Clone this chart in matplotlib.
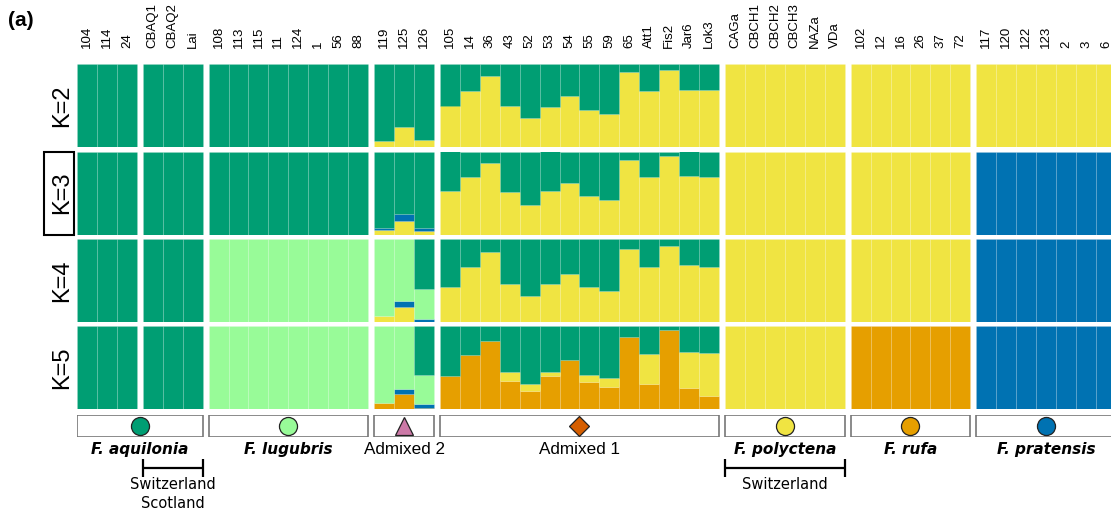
import matplotlib
matplotlib.use('Agg')
import matplotlib.pyplot as plt
from matplotlib.patches import Rectangle
import numpy as np

# cluster colours, in stacking order (bottom -> top)
ORANGE = '#E69F00'
YELLOW = '#F0E442'
BLUE = '#0072B2'
LIGHTGREEN = '#98FB98'
GREEN = '#009E73'
CLUSTER_COLORS = [ORANGE, YELLOW, BLUE, LIGHTGREEN, GREEN]

K_values = [2, 3, 4, 5]

# sample labels, one list per panel
aquilonia_a = ['104', '114', '24']
aquilonia_b = ['CBAQ1', 'CBAQ2', 'Lai']
lugubris = ['108', '113', '115', '11', '124', '1', '56', '88']
admixed2 = ['119', '125', '126']
admixed1 = ['105', '14', '36', '43', '52', '53', '54', '55', '59', '65',
            'Att1', 'Fis2', 'Jar6', 'Lok3']
polyctena = ['CAGa', 'CBCH1', 'CBCH2', 'CBCH3', 'NAZa', 'VDa']
rufa = ['102', '12', '16', '26', '37', '72']
pratensis = ['117', '120', '122', '123', '2', '3', '6']

# cluster index (into CLUSTER_COLORS) of the pure groups at K=2..5
aquilonia_cluster = [4, 4, 4, 4]
lugubris_cluster = [4, 4, 3, 3]
polyctena_cluster = [1, 1, 1, 1]
rufa_cluster = [1, 1, 1, 0]
pratensis_cluster = [1, 2, 2, 2]

# Admixed 1 ancestry proportions (green = remainder)
adm1_k2_yellow = [0.50, 0.68, 0.86, 0.49, 0.35, 0.48, 0.62, 0.45, 0.40, 0.90, 0.68, 0.93, 0.69, 0.69]
adm1_k3_yellow = [0.52, 0.69, 0.86, 0.51, 0.36, 0.52, 0.62, 0.46, 0.41, 0.90, 0.69, 0.94, 0.70, 0.69]
adm1_k4_yellow = [0.42, 0.66, 0.84, 0.46, 0.31, 0.46, 0.58, 0.42, 0.37, 0.88, 0.66, 0.92, 0.69, 0.66]
adm1_k5_orange = [0.40, 0.645, 0.82, 0.34, 0.22, 0.40, 0.585, 0.32, 0.26, 0.87, 0.30, 0.95, 0.25, 0.16]
adm1_k5_yellow = [0.0, 0.0, 0.0, 0.10, 0.085, 0.04, 0.0, 0.085, 0.11, 0.0, 0.36, 0.0, 0.44, 0.52]

# Admixed 2 ancestry proportions (green = remainder)
adm2_k2_yellow = [0.07, 0.24, 0.08]
adm2_k3_yellow = [0.05, 0.16, 0.045]
adm2_k3_blue = [0.03, 0.085, 0.035]
adm2_k4_yellow = [0.07, 0.18, 0.0]
adm2_k4_blue = [0.0, 0.07, 0.04]
adm2_k4_lightgreen = [0.93, 0.75, 0.36]
adm2_k5_orange = [0.07, 0.18, 0.015]
adm2_k5_blue = [0.0, 0.06, 0.04]
adm2_k5_lightgreen = [0.93, 0.755, 0.36]


def pure(n, cluster):
    q = np.zeros((n, 5))
    q[:, cluster] = 1.0
    return q


def mixed(n, parts):
    q = np.zeros((n, 5))
    for c, vals in parts.items():
        q[:, c] = vals
    q[:, 4] = 1.0 - q[:, :4].sum(axis=1)
    return q


adm1_parts = [{1: adm1_k2_yellow}, {1: adm1_k3_yellow}, {1: adm1_k4_yellow},
              {0: adm1_k5_orange, 1: adm1_k5_yellow}]
adm2_parts = [{1: adm2_k2_yellow},
              {1: adm2_k3_yellow, 2: adm2_k3_blue},
              {1: adm2_k4_yellow, 2: adm2_k4_blue, 3: adm2_k4_lightgreen},
              {0: adm2_k5_orange, 2: adm2_k5_blue, 3: adm2_k5_lightgreen}]

panels = [aquilonia_a, aquilonia_b, lugubris, admixed2, admixed1, polyctena, rufa, pratensis]
GAP = 0.3
starts = []
offset = 0.0
for p in panels:
    starts.append(offset)
    offset += len(p) + GAP
xs = np.concatenate([s + np.arange(len(p)) + 0.5 for s, p in zip(starts, panels)])
labels = sum(panels, [])

fig = plt.figure(figsize=(11.11, 5.13), dpi=100)
W, H = 1111, 513
left = 77 / W
row_tops = [64, 151.5, 239, 326]
row_h = 83
xmax = (W - 77) / 19.94

for ki, k in enumerate(K_values):
    q = np.vstack([
        pure(3, aquilonia_cluster[ki]),
        pure(3, aquilonia_cluster[ki]),
        pure(8, lugubris_cluster[ki]),
        mixed(3, adm2_parts[ki]),
        mixed(14, adm1_parts[ki]),
        pure(6, polyctena_cluster[ki]),
        pure(6, rufa_cluster[ki]),
        pure(7, pratensis_cluster[ki]),
    ])
    ax = fig.add_axes([left, 1 - (row_tops[ki] + row_h) / H, 1 - left, row_h / H])
    bottom = np.zeros(len(xs))
    for c in range(5):
        h = q[:, c]
        m = h > 0
        ax.bar(xs[m], h[m], bottom=bottom[m], width=1.0, color=CLUSTER_COLORS[c],
               edgecolor=(1, 1, 1, 0.1), linewidth=0.7)
        bottom += h
    ax.set_xlim(0, xmax)
    ax.set_ylim(0, 1)
    for s in ax.spines.values():
        s.set_visible(False)
    ax.set_yticks([])
    ax.set_ylabel(f'K={k}', fontsize=17, family='Liberation Sans', labelpad=3)
    if ki == 0:
        ax.set_xticks(xs)
        ax.set_xticklabels(labels, rotation=90, family='Liberation Sans', fontsize=9.5)
        ax.tick_params(axis='x', top=True, labeltop=True, bottom=False, labelbottom=False,
                       length=0, pad=11.5)
    else:
        ax.set_xticks([])
    if k == 3:
        ax.add_patch(Rectangle((-33 / 1034, 0), 30 / 1034, 1, transform=ax.transAxes,
                               fill=False, edgecolor='black', linewidth=1.5, clip_on=False))

# group boxes with symbols and names
groups = [
    ('F. aquilonia', [0, 1], 'o', GREEN, 13, True),
    ('F. lugubris', [2], 'o', LIGHTGREEN, 13, True),
    ('Admixed 2', [3], '^', '#CC79A7', 12.5, False),
    ('Admixed 1', [4], 'D', '#D55E00', 10.5, False),
    ('F. polyctena', [5], 'o', YELLOW, 13, True),
    ('F. rufa', [6], 'o', ORANGE, 13, True),
    ('F. pratensis', [7], 'o', BLUE, 13, True),
]
brackets = [(1, ['Switzerland', 'Scotland']), (5, ['Switzerland'])]

box_top, box_h = 415, 22
axg = fig.add_axes([left, 1 - (box_top + box_h) / H, 1 - left, box_h / H])
axg.set_xlim(0, xmax)
axg.set_ylim(0, 1)
axg.axis('off')
for name, idx, marker, color, ms, species in groups:
    x0 = starts[idx[0]]
    x1 = starts[idx[-1]] + len(panels[idx[-1]])
    axg.add_patch(Rectangle((x0, 0), x1 - x0, 1, facecolor='white',
                            edgecolor='#777777', linewidth=1.2))
    xc = (x0 + x1) / 2
    axg.plot([xc], [0.5], marker=marker, markersize=ms, color=color,
             markeredgecolor='#222222', markeredgewidth=0.9)
    if species:
        axg.text(xc, -0.59, name, ha='center', va='center', fontsize=11,
                 family='DejaVu Sans', weight='bold', style='italic', clip_on=False)
    else:
        axg.text(xc, -0.59, name, ha='center', va='center', fontsize=12.3,
                 family='Liberation Sans', clip_on=False)

for idx, lines in brackets:
    x0 = starts[idx]
    x1 = x0 + len(panels[idx])
    kw = dict(color='black', linewidth=1.6, clip_on=False, solid_capstyle='butt')
    axg.plot([x0, x1], [-1.41, -1.41], **kw)
    axg.plot([x0, x0], [-1.0, -1.82], **kw)
    axg.plot([x1, x1], [-1.0, -1.82], **kw)
    for j, line in enumerate(lines):
        axg.text((x0 + x1) / 2, -2.14 - 0.86 * j, line, ha='center', va='center',
                 fontsize=10.5, family='DejaVu Sans', clip_on=False)

fig.text(8 / W, 1 - 20 / H, '(a)', fontsize=15, weight='bold', family='Liberation Sans',
         ha='left', va='center')

fig.savefig('out.png', dpi=100)
